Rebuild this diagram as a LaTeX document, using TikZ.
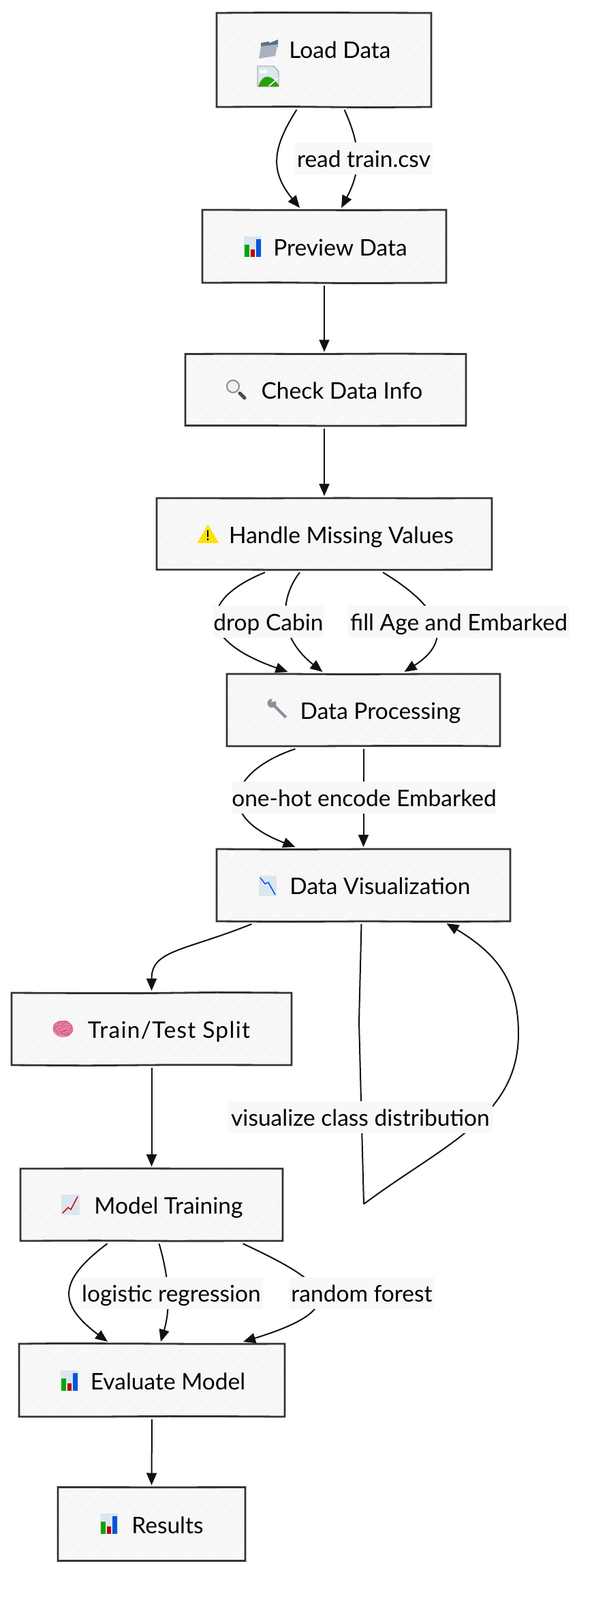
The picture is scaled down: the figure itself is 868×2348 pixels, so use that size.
\documentclass[tikz,border=0pt]{standalone}
\usepackage{fontspec}
\usetikzlibrary{arrows.meta}
\usetikzlibrary{decorations.pathmorphing}
\setmainfont{Lato}
\newfontfamily\emojifont{Noto Emoji}

\definecolor{boxfill}{HTML}{F7F7F7}
\definecolor{boxline}{HTML}{333333}
\definecolor{edgeline}{HTML}{111111}
\definecolor{labelfill}{HTML}{F8F8F8}
\definecolor{iconsky}{HTML}{DCE6EF}
\definecolor{brainfill}{HTML}{EC86A4}
\definecolor{brainline}{HTML}{C4587C}
\definecolor{folderback}{HTML}{5E7083}
\definecolor{folderfront}{HTML}{A7B4C0}
\definecolor{wrenchgray}{HTML}{8A8F99}

\tikzset{
 procbox/.style={draw=boxline, fill=boxfill, line width=2.8pt, inner sep=0pt, outer sep=0pt,
  decorate, decoration={random steps,segment length=110pt,amplitude=.7pt},
  font=\fontsize{33.5}{38}\selectfont, text=black, text height=28pt, text depth=1pt,
  path picture={
   \foreach \h in {-130,-95,...,460} {
    \draw[white,line width=1pt] (path picture bounding box.south west) ++(\h pt,0pt) -- ++(125pt,150pt);
   };
  }},
 edgelabel/.style={fill=labelfill, inner sep=0pt, minimum height=47pt, text=black,
  font=\fontsize{33.5}{38}\selectfont, text height=28pt, text depth=1pt},
 flow/.style={draw=edgeline, line width=2pt, -{Triangle[length=18pt,width=15pt]}},
 flowplain/.style={draw=edgeline, line width=2pt},
 glyph/.style={inner sep=0pt, font=\emojifont\fontsize{26}{30}\selectfont},
 iconbars/.pic={
  \fill[iconsky] (0,0) rectangle (26,30);
  \fill[green!65!black] (1,12) rectangle (8,30);
  \fill[red!75!black] (10,19) rectangle (16,30);
  \fill[blue!60!cyan!85!black] (18,4) rectangle (25,30);
 },
 icondown/.pic={
  \fill[iconsky] (0,0) rectangle (26,30);
  \draw[blue!70!cyan,line width=1.5pt] (2,3) -- (9,12) -- (14,10) -- (24,28);
 },
 iconup/.pic={
  \fill[iconsky] (0,0) rectangle (27,30);
  \draw[red!85!black,line width=1.5pt] (2,27) -- (10,19) -- (14,22) -- (24,3);
 },
 iconwarn/.pic={
  \fill[yellow!85!orange,line join=round,draw=yellow!85!orange,line width=1.5pt] (15,1) -- (30,26) -- (1,26) -- cycle;
  \fill[black] (14,8) rectangle (16,18);
  \fill[black] (14,20) rectangle (16,23);
 },
 iconbroken/.pic={
  \fill[iconsky] (0,0) -- (24,0) -- (31,8) -- (31,30) -- (0,30) -- cycle;
  \fill[green!55!black!80!lime] (1,30) .. controls (8,10) and (20,12) .. (31,28) -- (31,30) -- cycle;
  \fill[white] (6,8) circle (3) (11,8) circle (3);
  \draw[white,line width=1.6pt] (16,30) -- (31,17);
  \draw[gray,line width=.7pt] (0,0) -- (24,0) -- (31,8) -- (31,30) -- (0,30) -- cycle;
 },
 iconfolder/.pic={
  \fill[folderback] (3,5) -- (14,3) -- (16,5) -- (28,0) -- (28,10) -- (3,14) -- cycle;
  \fill[folderfront] (0,28) -- (3,10) -- (28,7) -- (24,24) -- cycle;
 },
 iconmag/.pic={
  \draw[gray!90,line width=2pt,fill=gray!12] (10,10) circle (9);
  \draw[black!70,line width=5pt,line cap=round] (20,20) -- (27,27);
 },
 iconwrench/.pic={
  \draw[wrenchgray,line width=4pt] (7,7) -- (27,27);
  \fill[wrenchgray] (6,6) circle (6.5);
  \fill[boxfill] (5,4) -- (8,-2) -- (13,3) -- cycle;
  \fill[white] (27,27) circle (1);
 },
}

\begin{document}
\begin{tikzpicture}[x=1pt, y=-1pt]
\useasboundingbox (0,0) rectangle (868,2348);

% boxes
\node[procbox, minimum width=315pt, minimum height=138pt, text depth=34pt] (load) at (475.5,88) {\hspace*{47pt}Load Data};
\node[procbox, minimum width=358pt, minimum height=107pt] (preview) at (476,361.5) {\hspace*{47pt}Preview Data};
\node[procbox, minimum width=412pt, minimum height=105pt] (check) at (478,572) {\hspace*{48pt}Check Data Info};
\node[procbox, minimum width=492pt, minimum height=105pt] (handle) at (476,783.5) {\hspace*{50pt}Handle Missing Values};
\node[procbox, minimum width=401pt, minimum height=106pt] (proc) at (533.5,1042) {\hspace*{50pt}Data Processing};
\node[procbox, minimum width=431pt, minimum height=106pt] (vis) at (533.5,1299) {\hspace*{49pt}Data Visualization};
\node[procbox, minimum width=411pt, minimum height=106pt] (split) at (222.5,1510) {\hspace*{51pt}\addfontfeature{LetterSpace=4}Train/Test Split};
\node[procbox, minimum width=385pt, minimum height=106pt] (train) at (222.5,1768) {\hspace*{50pt}Model Training};
\node[procbox, minimum width=390pt, minimum height=107pt] (eval) at (223,2025.5) {\hspace*{47pt}Evaluate Model};
\node[procbox, minimum width=275pt, minimum height=108pt] (results) at (222.5,2236.5) {\hspace*{47pt}Results};

% icons
\pic at (380,58) {iconfolder};
\pic at (378,97) {iconbroken};
\pic at (358,347) {iconbars};
\pic at (332,557) {iconmag};
\pic at (290,770) {iconwarn};
\pic at (393,1026) {iconwrench};
\pic at (380,1285) {icondown};
\fill[brainfill] (92.5,1510) ellipse (15 and 12);
\node[glyph, text=brainline] (spliticon) at (92.5,1510) {\emojifont 🧠};
\pic at (90,1753) {iconup};
\pic at (89,2011) {iconbars};
\pic at (147,2221) {iconbars};

% connectors
\draw[flow] ([xshift=-40pt,yshift=-4pt]load.south) .. controls +(-35,55) and +(-45,-55) .. ([xshift=-36pt,yshift=3pt]preview.north);
\draw[flow] ([xshift=30pt,yshift=-4pt]load.south) .. controls +(25,55) and +(29,-55) .. ([xshift=25pt,yshift=3pt]preview.north);
\draw[flow] ([yshift=-4pt]preview.south) -- ([yshift=3pt]check.north -| preview.south);
\draw[flow] ([yshift=-4pt]check.south -| handle.north) -- ([yshift=3pt]handle.north);

\draw[flow] ([xshift=-87pt,yshift=-4pt]handle.south) .. controls +(-90,36) and +(-142,-50) .. ([xshift=-111pt,yshift=3pt]proc.north);
\draw[flow] ([xshift=-36pt,yshift=-4pt]handle.south) .. controls +(-26,33) and +(-70,-55) .. ([xshift=-60pt,yshift=3pt]proc.north);
\draw[flow] ([xshift=86pt,yshift=-4pt]handle.south) .. controls +(63,38) and +(86,-55) .. ([xshift=60pt,yshift=3pt]proc.north);

\draw[flow] ([xshift=-100pt,yshift=-4pt]proc.south) .. controls +(-90,30) and +(-125,-48) .. ([xshift=-100pt,yshift=3pt]vis.north);
\draw[flow] ([yshift=-4pt]proc.south) -- ([yshift=3pt]vis.north);

\draw[flow] ([xshift=-164pt,yshift=-4pt]vis.south) .. controls +(-100,40) and +(0,-60) .. ([yshift=3pt]split.north);

\coordinate (loopturn) at (534,1767);
\draw[flowplain] ([xshift=-3pt,yshift=-4pt]vis.south) -- (527,1500) -- (loopturn);
\draw[flow] (loopturn) .. controls (650,1680) and (761,1640) .. (761,1517) .. controls (761,1440) and (730,1400) .. ([xshift=122pt,yshift=-3pt]vis.south);

\draw[flow] ([yshift=-4pt]split.south) -- ([yshift=3pt]train.north);

\draw[flow] ([xshift=-65pt,yshift=-4pt]train.south) .. controls +(-73,55) and +(-73,-55) .. ([xshift=-65pt,yshift=3pt]eval.north);
\draw[flow] ([xshift=11pt,yshift=-4pt]train.south) .. controls +(16,55) and +(14,-48) .. ([xshift=13pt,yshift=3pt]eval.north);
\draw[flow] ([xshift=134pt,yshift=-4pt]train.south) .. controls +(113,53) and +(173,-53) .. ([xshift=134pt,yshift=3pt]eval.north);

\draw[flow] ([yshift=-4pt]eval.south) -- ([yshift=3pt]results.north);

% edge labels
\node[edgelabel, minimum width=202pt] (lbread) at (534,232) {read train.csv};
\node[edgelabel, minimum width=156pt] (lbdrop) at (394,912) {drop Cabin};
\node[edgelabel, minimum width=325pt] (lbfill) at (673.5,912) {fill Age and Embarked};
\node[edgelabel, minimum width=381pt] (lbhot) at (534.5,1170) {one-hot encode Embarked};
\node[edgelabel, minimum width=388pt] (lbclass) at (529,1639) {visualize class distribution};
\node[edgelabel, minimum width=269pt] (lblogit) at (251.5,1897) {logistic regression};
\node[edgelabel, minimum width=212pt] (lbforest) at (531,1897) {random forest};

\end{tikzpicture}
\end{document}
